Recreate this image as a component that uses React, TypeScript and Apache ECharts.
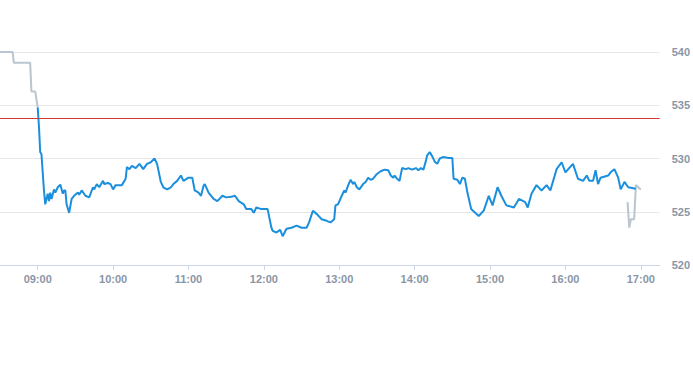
import React, { useEffect, useRef } from "react";
import * as echarts from "echarts";

// minutes after midnight
const preTimes = [510, 520, 521, 534, 535, 538, 540];
const prePrices = [540, 540, 539, 539, 536.3, 536.3, 534.8];

const mainTimes = [
  540, 541, 542, 543, 545, 546, 548, 549, 550, 551, 553, 554, 556, 558, 560, 561, 562, 563, 565, 567,
  569, 572, 573, 575, 578, 581, 584, 585, 587, 589, 592, 593, 596, 598, 600, 602, 607, 610, 611, 613,
  615, 618, 621, 624, 627, 630, 633, 635, 638, 640, 643, 646, 648, 651, 654, 656, 660, 663, 665, 668,
  670, 672, 673, 676, 680, 683, 687, 690, 694, 697, 700, 704, 706, 710, 712, 714, 718, 721, 723, 726,
  727, 730, 733, 735, 738, 742, 746, 750, 754, 756, 759, 762, 766, 770, 773, 776, 777, 779, 782, 784,
  785, 787, 789, 791, 792, 794, 796, 799, 801, 803, 805, 807, 810, 813, 816, 819, 821, 823, 824, 826,
  828, 830, 833, 835, 838, 841, 843, 845, 847, 849, 850, 852, 854, 856, 858, 860, 863, 867, 870, 871,
  874, 876, 878, 880, 882, 885, 891, 895,
  899, 902, 906, 909, 913, 919, 923, 928, 930, 933, 937, 941, 945, 948, 953, 957, 960, 966, 970, 974,
  977, 979, 982, 984, 986, 988, 994, 996, 999, 1002, 1004, 1007, 1010, 1016,
];
const mainPrices = [
  534.8, 533.0, 530.6, 530.4, 527.0, 525.7, 526.7, 526.0, 526.8, 526.2, 527.1, 526.8, 527.3, 527.55, 526.7, 527.0, 527.0, 525.7, 524.9, 526.2,
  526.5, 526.8, 526.6, 527.0, 526.5, 526.35, 527.3, 527.1, 527.6, 527.3, 527.9, 527.6, 527.7, 527.6, 527.1, 527.5, 527.5, 528.1, 529.2, 529.0,
  529.3, 529.1, 529.5, 529.0, 529.5, 529.65, 530.0, 529.5, 527.8, 527.3, 527.1, 527.3, 527.6, 527.9, 528.4, 527.9, 528.2, 528.2, 527.0, 526.8,
  526.5, 527.45, 527.6, 526.8, 526.2, 526.0, 526.5, 526.35, 526.4, 526.5, 526.0, 525.7, 525.25, 525.25, 524.9, 525.4, 525.25, 525.25, 525.25, 523.5,
  523.2, 523.05, 523.3, 522.7, 523.4, 523.5, 523.7, 523.5, 523.5, 524.0, 525.1, 524.8, 524.3, 524.15, 524.0, 524.3, 525.6, 525.7, 526.5, 527.0,
  526.8, 527.45, 528.0, 527.6, 527.8, 527.3, 527.1, 527.6, 527.8, 528.2, 528.0, 528.1, 528.55, 528.8, 528.95, 528.9, 528.4, 528.2, 528.4, 528.1,
  527.9, 529.1, 529.0, 529.1, 528.95, 529.1, 528.9, 529.1, 528.95, 529.8, 530.3, 530.6, 530.2, 529.7, 529.5, 530.0, 530.15, 530.05, 530.05, 528.1,
  528.0, 527.6, 528.2, 528.1, 526.8, 525.25, 524.6, 525.1,
  526.5, 525.6, 527.3, 526.5, 525.6, 525.4, 526.2, 525.9, 525.4, 526.7, 527.5, 527.0, 527.5, 527.0, 529.0, 529.65, 528.7, 529.5, 528.1, 527.9,
  528.4, 527.9, 527.9, 528.9, 527.6, 528.2, 528.4, 528.7, 529.0, 528.2, 527.1, 527.8, 527.3, 527.15,
];

const postTimes = [1009.5, 1010.8, 1012.1, 1014.7, 1016.1, 1020];
const postPrices = [525.9, 523.5, 524.3, 524.3, 527.5, 527.1];

const previousClose = 533.77;
const hourTicks = [540, 600, 660, 720, 780, 840, 900, 960, 1020];
const yTicks = [520, 525, 530, 535, 540];

const zip = (t: number[], p: number[]) => t.map((x, i) => [x, p[i]]);
const fmt = (m: number) => {
  const h = Math.floor(m / 60);
  const mm = Math.round(m % 60);
  return `${String(h).padStart(2, "0")}:${String(mm).padStart(2, "0")}`;
};

export default function App() {
  const ref = useRef<HTMLDivElement>(null);
  useEffect(() => {
    if (!ref.current) return;
    const chart = echarts.init(ref.current, null, { renderer: "svg" });
    const labelColor = "#8a96a6";
    chart.setOption({
      animation: false,
      grid: { left: 0, right: 29, top: 52, bottom: 100, containLabel: false },
      xAxis: {
        type: "value",
        min: 510,
        max: 1035,
        splitLine: { show: false },
        axisLine: { show: true, lineStyle: { color: "#ccd6eb", width: 1 } },
        axisTick: { show: true, length: 5, lineStyle: { color: "#ccd6eb" }, customValues: hourTicks },
        axisLabel: {
          customValues: hourTicks,
          formatter: (v: number) => fmt(v),
          color: labelColor,
          fontSize: 11,
          fontWeight: "bold",
          fontFamily: "Liberation Sans, Arial, sans-serif",
          margin: 8,
        },
      },
      yAxis: {
        type: "value",
        position: "right",
        min: yTicks[0],
        max: yTicks[yTicks.length - 1],
        interval: 5,
        axisLine: { show: false },
        axisTick: { show: false },
        splitLine: { show: true, lineStyle: { color: "#e6e6e6", width: 1 } },
        axisLabel: {
          color: labelColor,
          fontSize: 11,
          fontWeight: "bold",
          fontFamily: "Liberation Sans, Arial, sans-serif",
          margin: 12,
          align: "left",
        },
      },
      series: [
        {
          type: "line",
          data: zip(preTimes, prePrices),
          showSymbol: false,
          lineStyle: { color: "#b9c5d0", width: 2 },
          z: 2,
        },
        {
          type: "line",
          data: zip(postTimes, postPrices),
          showSymbol: false,
          lineStyle: { color: "#b9c5d0", width: 2 },
          z: 2,
        },
        {
          type: "line",
          data: zip(mainTimes, mainPrices),
          showSymbol: false,
          lineStyle: { color: "#1a8fdd", width: 2 },
          z: 3,
          markLine: {
            silent: true,
            symbol: ["none", "none"],
            label: { show: false },
            lineStyle: { color: "#d33a3a", width: 1, type: "solid" },
            data: [{ yAxis: previousClose }],
          },
        },
      ],
    });
    return () => chart.dispose();
  }, []);
  return (
    <div
      ref={ref}
      style={{ position: "fixed", left: 0, top: 0, width: 693, height: 365, background: "#fff" }}
    />
  );
}
